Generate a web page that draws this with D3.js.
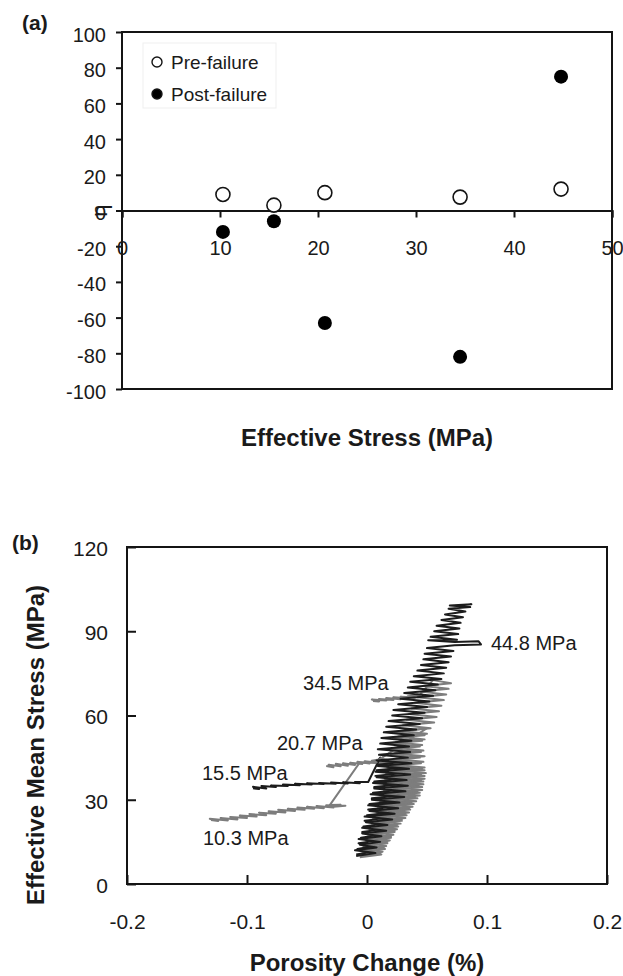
<!DOCTYPE html>
<html><head><meta charset="utf-8">
<script src="https://cdn.jsdelivr.net/npm/d3@7"></script>
<style>
body{margin:0;background:#fff}
svg{display:block}
text{font-family:"Liberation Sans",Arial,Helvetica,sans-serif;fill:#1a1a1a}
</style>
</head><body>
<svg id="c" width="623" height="976"></svg>
<script>
// ---------- Panel (a) data ----------
const stressA = [10.3, 15.5, 20.7, 34.5, 44.8];
const etaPre  = [9, 3, 10, 7.5, 12];
const etaPost = [-12, -6, -63, -82, 75];
const xTicksA = [0, 10, 20, 30, 40, 50];
const yTicksA = [-100, -80, -60, -40, -20, 0, 20, 40, 60, 80, 100];
const legendA = ["Pre-failure", "Post-failure"];

// ---------- Panel (b) data: [porosity change %, effective mean stress MPa] ----------
const curve10 = [[-0.006,9.5],[0.012,10.5],[-0.004,11.5],[0.015,12.5],[-0.003,13.5],[0.017,14.5],[-0.001,15.5],[0.020,16.5],[0.001,17.5],[0.023,18.5],[0.002,19.5],[0.026,20.5],[0.004,21.5],[0.029,22.5],[0.005,23.5],[0.033,24.5],[0.008,25.5],[0.036,26.5],[0.009,27.5],[0.039,28.5],[0.011,29.5],[0.042,30.5],[0.012,31.5],[0.044,32.5],[0.014,33.5],[0.046,34.5],[0.014,35.5],[0.047,36.5],[0.015,37.5],[0.048,38.5],[0.016,39.5],[0.048,40.5],[0.017,41.5],[0.030,42.8],[0.010,43.4],[0.016,43.0],[-0.006,43.3],[-0.031,28.1],[-0.022,28.2],[-0.028,27.5],[-0.018,27.9],[-0.034,28.0],[-0.028,27.2],[-0.042,27.8],[-0.036,27.0],[-0.050,27.5],[-0.044,26.8],[-0.058,27.2],[-0.052,26.4],[-0.066,26.8],[-0.060,26.0],[-0.074,26.4],[-0.068,25.5],[-0.082,25.9],[-0.076,25.0],[-0.090,25.4],[-0.084,24.5],[-0.098,24.9],[-0.092,24.0],[-0.106,24.4],[-0.100,23.5],[-0.114,23.9],[-0.108,23.0],[-0.122,23.5],[-0.116,22.6],[-0.131,23.2],[-0.124,22.4],[-0.130,22.8]];
const curve15 = [[-0.009,10.5],[0.005,11.5],[-0.008,12.5],[0.006,13.5],[-0.007,14.5],[0.009,15.5],[-0.005,16.5],[0.011,17.5],[-0.004,18.5],[0.013,19.5],[-0.003,20.5],[0.015,21.5],[-0.002,22.5],[0.018,23.5],[0.000,24.5],[0.020,25.5],[0.001,26.5],[0.023,27.5],[0.002,28.5],[0.025,29.5],[0.004,30.5],[0.027,31.5],[0.005,32.5],[0.028,33.5],[0.006,34.5],[0.029,35.5],[0.006,36.5],[0.030,37.5],[0.007,38.5],[0.031,39.5],[0.008,40.5],[0.031,41.5],[0.009,42.5],[0.031,43.5],[0.010,44.5],[0.011,45.0],[0.001,36.3],[-0.010,36.3],[-0.006,35.9],[-0.020,36.2],[-0.016,35.8],[-0.030,36.1],[-0.026,35.7],[-0.040,36.0],[-0.036,35.6],[-0.050,35.9],[-0.046,35.4],[-0.060,35.7],[-0.056,35.2],[-0.070,35.4],[-0.066,34.9],[-0.080,35.1],[-0.076,34.5],[-0.088,34.9],[-0.084,34.0],[-0.095,34.6],[-0.090,33.8],[-0.095,34.1]];
const curve20 = [[-0.004,10],[0.011,11],[-0.003,12],[0.014,13],[-0.001,14],[0.017,15],[0.001,16],[0.020,17],[0.002,18],[0.023,19],[0.004,20],[0.025,21],[0.006,22],[0.029,23],[0.008,24],[0.032,25],[0.010,26],[0.035,27],[0.011,28],[0.037,29],[0.013,30],[0.040,31],[0.015,32],[0.042,33],[0.016,34],[0.043,35],[0.017,36],[0.045,37],[0.018,38],[0.045,39],[0.019,40],[0.046,41],[0.019,42],[0.045,43],[0.019,44],[0.044,45],[0.020,46],[0.045,47],[0.020,48],[0.044,49],[0.0195,50],[0.046,51],[0.021,52],[0.048,53],[0.023,54],[0.050,55.5],[0.010,44.3],[0.004,43.9],[0.008,43.3],[-0.002,43.7],[0.002,42.9],[-0.008,43.5],[-0.004,42.7],[-0.014,43.2],[-0.010,42.4],[-0.020,43.0],[-0.016,42.1],[-0.026,42.8],[-0.022,41.9],[-0.032,42.5],[-0.028,41.6],[-0.034,42.0]];
const curve34 = [[-0.001,10.5],[0.013,11.5],[0.001,12.5],[0.016,13.5],[0.002,14.5],[0.019,15.5],[0.004,16.5],[0.022,17.5],[0.006,18.5],[0.025,19.5],[0.007,20.5],[0.028,21.5],[0.009,22.5],[0.032,23.5],[0.012,24.5],[0.035,25.5],[0.014,26.5],[0.038,27.5],[0.016,28.5],[0.041,29.5],[0.017,30.5],[0.044,31.5],[0.019,32.5],[0.046,33.5],[0.020,34.5],[0.047,35.5],[0.021,36.5],[0.048,37.5],[0.022,38.5],[0.049,39.5],[0.023,40.5],[0.048,41.5],[0.022,42.5],[0.047,43.5],[0.023,44.5],[0.048,45.5],[0.023,46.5],[0.047,47.5],[0.023,48.5],[0.046,49.5],[0.024,50.5],[0.048,51.5],[0.026,52.5],[0.050,53.5],[0.028,54.5],[0.053,55.5],[0.030,56.5],[0.056,57.5],[0.033,58.5],[0.058,59.5],[0.035,60.5],[0.060,61.5],[0.037,62.5],[0.062,63.5],[0.040,64.5],[0.064,65.5],[0.042,66.5],[0.066,67.5],[0.045,68.5],[0.068,69.5],[0.047,70.5],[0.070,71.5],[0.055,72.6],[0.044,67.3],[0.034,66.9],[0.040,66.4],[0.028,66.7],[0.034,66.1],[0.022,66.5],[0.028,65.8],[0.016,66.2],[0.022,65.5],[0.010,65.9],[0.016,65.3],[0.004,65.7],[0.010,65.0],[0.005,65.2]];
const curve44 = [[-0.009,10],[0.007,11],[-0.010,12],[0.008,13],[-0.006,14],[0.011,15],[-0.007,16],[0.012,17],[-0.004,18],[0.016,19],[-0.004,20],[0.017,21],[-0.001,22],[0.021,23],[-0.002,24],[0.023,25],[0.002,26],[0.026,27],[0.001,28],[0.027,29],[0.004,30],[0.031,31],[0.003,32],[0.032,33],[0.006,34],[0.034,35],[0.005,36],[0.033,37],[0.008,38],[0.036,39],[0.007,40],[0.035,41],[0.009,42],[0.037,43],[0.008,44],[0.034,45],[0.010,46],[0.036,47],[0.009,48],[0.035,49],[0.011,50],[0.037,51],[0.012,52],[0.039,53],[0.014,54],[0.041,55],[0.016,56],[0.044,57],[0.018,58],[0.046,59],[0.021,60],[0.048,61],[0.022,62],[0.050,63],[0.026,64],[0.052,65],[0.028,66],[0.055,67],[0.031,68],[0.057,69],[0.034,70],[0.059,71],[0.036,72],[0.062,73],[0.039,74],[0.064,75],[0.042,76],[0.066,77],[0.045,78],[0.068,79],[0.047,80],[0.070,81],[0.048,82],[0.072,83],[0.050,84],[0.073,85],[0.095,85.3],[0.093,86.4],[0.073,86.2],[0.051,86.8],[0.075,87],[0.053,88],[0.076,89],[0.056,90],[0.077,91],[0.058,92],[0.078,93],[0.062,94],[0.080,95],[0.065,96],[0.082,97],[0.068,98],[0.086,98.6],[0.069,99.2],[0.087,99.6],[0.074,99.0]];
const curveNames = ["10.3 MPa", "15.5 MPa", "20.7 MPa", "34.5 MPa", "44.8 MPa"];
const curves = [curve10, curve15, curve20, curve34, curve44];
const xTicksB = [-0.2, -0.1, 0, 0.1, 0.2];
const yTicksB = [0, 30, 60, 90, 120];

// ---------- layout / style ----------
const curveColors = ["#7d7d7d", "#1c1c1c", "#7d7d7d", "#7d7d7d", "#1c1c1c"];
// label anchors in data units (left edge, vertical centre)
const labelAnchors = [[-0.1367, 16.4], [-0.1375, 39.5], [-0.075, 50.2], [-0.0533, 71.6], [0.1033, 85.8]];

const svg = d3.select("#c");
svg.append("rect").attr("width", 623).attr("height", 976).attr("fill", "#fff");
const ink = "#141414";
const FF = "Liberation Sans, Arial, sans-serif";

// ================= Panel (a) =================
const A = {l: 122, r: 612, t: 32, b: 389};
const xA = d3.scaleLinear().domain([0, 50]).range([A.l, A.r]);
const yA = d3.scaleLinear().domain([-100, 100]).range([A.b, A.t]);

const gA = svg.append("g");
const yAxA = gA.append("g").attr("transform", `translate(${A.l},0)`)
  .call(d3.axisLeft(yA).tickValues(yTicksA).tickSize(6).tickPadding(10).tickFormat(d => String(d)));
yAxA.select(".domain").remove();
yAxA.selectAll("line").attr("stroke", ink).attr("stroke-width", 2);
yAxA.selectAll("text").attr("font-size", 20).attr("dy", "0.45em").style("font-family", FF).attr("fill", "#1a1a1a");

gA.append("rect").attr("x", A.l).attr("y", A.t).attr("width", A.r - A.l).attr("height", A.b - A.t)
  .attr("fill", "none").attr("stroke", ink).attr("stroke-width", 2);

const xAxA = gA.append("g").attr("transform", `translate(0,${yA(0)})`)
  .call(d3.axisBottom(xA).tickValues(xTicksA).tickSize(7).tickPadding(23.5).tickFormat(d => String(d)));
xAxA.select(".domain").attr("stroke", ink).attr("stroke-width", 2);
xAxA.selectAll("line").attr("stroke", ink).attr("stroke-width", 2);
xAxA.selectAll("text").attr("font-size", 20).style("font-family", FF).attr("fill", "#1a1a1a");

const r = 7;
gA.selectAll("circle.pre").data(stressA.map((s, i) => [s, etaPre[i]])).join("circle")
  .attr("class", "pre").attr("cx", d => xA(d[0])).attr("cy", d => yA(d[1])).attr("r", r)
  .attr("fill", "#fff").attr("stroke", ink).attr("stroke-width", 1.6);
gA.selectAll("circle.post").data(stressA.map((s, i) => [s, etaPost[i]])).join("circle")
  .attr("class", "post").attr("cx", d => xA(d[0])).attr("cy", d => yA(d[1])).attr("r", r)
  .attr("fill", "#000");

gA.append("rect").attr("x", 143).attr("y", 43).attr("width", 133).attr("height", 65)
  .attr("fill", "#fff").attr("stroke", "#efefef").attr("stroke-width", 1);
legendA.forEach((t, i) => {
  const cy = 62 + i * 32;
  gA.append("circle").attr("cx", 157).attr("cy", cy).attr("r", 5)
    .attr("fill", i === 0 ? "#fff" : "#000").attr("stroke", ink).attr("stroke-width", 1.4);
  gA.append("text").attr("x", 171).attr("y", cy).attr("dy", "0.36em").attr("font-size", 19).text(t);
});

gA.append("text").attr("transform", `translate(99,${yA(0)}) rotate(-90)`).attr("text-anchor", "middle")
  .attr("dy", "0.35em").attr("font-size", 22).text("η");
gA.append("text").attr("x", (A.l + A.r) / 2).attr("y", 437).attr("dy", "0.36em").attr("text-anchor", "middle")
  .attr("font-size", 24).attr("font-weight", "bold").text("Effective Stress (MPa)");
svg.append("text").attr("x", 22).attr("y", 22).attr("dy", "0.36em").attr("font-size", 21)
  .attr("font-weight", "bold").text("(a)");

// ================= Panel (b) =================
const B = {l: 127, r: 607, t: 547, b: 884};
const xB = d3.scaleLinear().domain([-0.2, 0.2]).range([B.l, B.r]);
const yB = d3.scaleLinear().domain([0, 120]).range([B.b, B.t]);
const gB = svg.append("g");

svg.append("defs").append("clipPath").attr("id", "clipB").append("rect")
  .attr("x", B.l).attr("y", B.t).attr("width", B.r - B.l).attr("height", B.b - B.t);

const line = d3.line().x(d => xB(d[0])).y(d => yB(d[1]));
gB.append("g").attr("clip-path", "url(#clipB)").selectAll("path").data(curves).join("path")
  .attr("d", line).attr("fill", "none")
  .attr("stroke", (d, i) => curveColors[i]).attr("stroke-width", 2).attr("stroke-linejoin", "round");

const yAxB = gB.append("g").attr("transform", `translate(${B.l},0)`)
  .call(d3.axisLeft(yB).tickValues(yTicksB).tickSize(-9).tickPadding(19).tickFormat(d => String(d)));
yAxB.select(".domain").remove();
yAxB.selectAll("line").attr("stroke", ink).attr("stroke-width", 2);
yAxB.selectAll("text").attr("font-size", 21).attr("dy", "0.4em").style("font-family", FF).attr("fill", "#1a1a1a");

const xAxB = gB.append("g").attr("transform", `translate(0,${B.b})`)
  .call(d3.axisBottom(xB).tickValues(xTicksB).tickSize(-9).tickPadding(30.5).tickFormat(d => d === 0 ? "0" : d.toFixed(1)));
xAxB.select(".domain").remove();
xAxB.selectAll("line").attr("stroke", ink).attr("stroke-width", 2);
xAxB.selectAll("text").attr("font-size", 21).style("font-family", FF).attr("fill", "#1a1a1a");

gB.append("rect").attr("x", B.l).attr("y", B.t).attr("width", B.r - B.l).attr("height", B.b - B.t)
  .attr("fill", "none").attr("stroke", ink).attr("stroke-width", 2);

gB.selectAll("text.lab").data(curveNames).join("text").attr("class", "lab")
  .attr("x", (d, i) => xB(labelAnchors[i][0])).attr("y", (d, i) => yB(labelAnchors[i][1]))
  .attr("dy", "0.36em").attr("font-size", 20).text(d => d);

gB.append("text").attr("transform", `translate(35,745) rotate(-90)`).attr("text-anchor", "middle")
  .attr("dy", "0.36em").attr("font-size", 24).attr("font-weight", "bold").text("Effective Mean Stress (MPa)");
gB.append("text").attr("x", (B.l + B.r) / 2).attr("y", 962).attr("dy", "0.36em").attr("text-anchor", "middle")
  .attr("font-size", 24).attr("font-weight", "bold").text("Porosity Change (%)");
svg.append("text").attr("x", 12).attr("y", 542).attr("dy", "0.36em").attr("font-size", 21)
  .attr("font-weight", "bold").text("(b)");
</script>
</body></html>
